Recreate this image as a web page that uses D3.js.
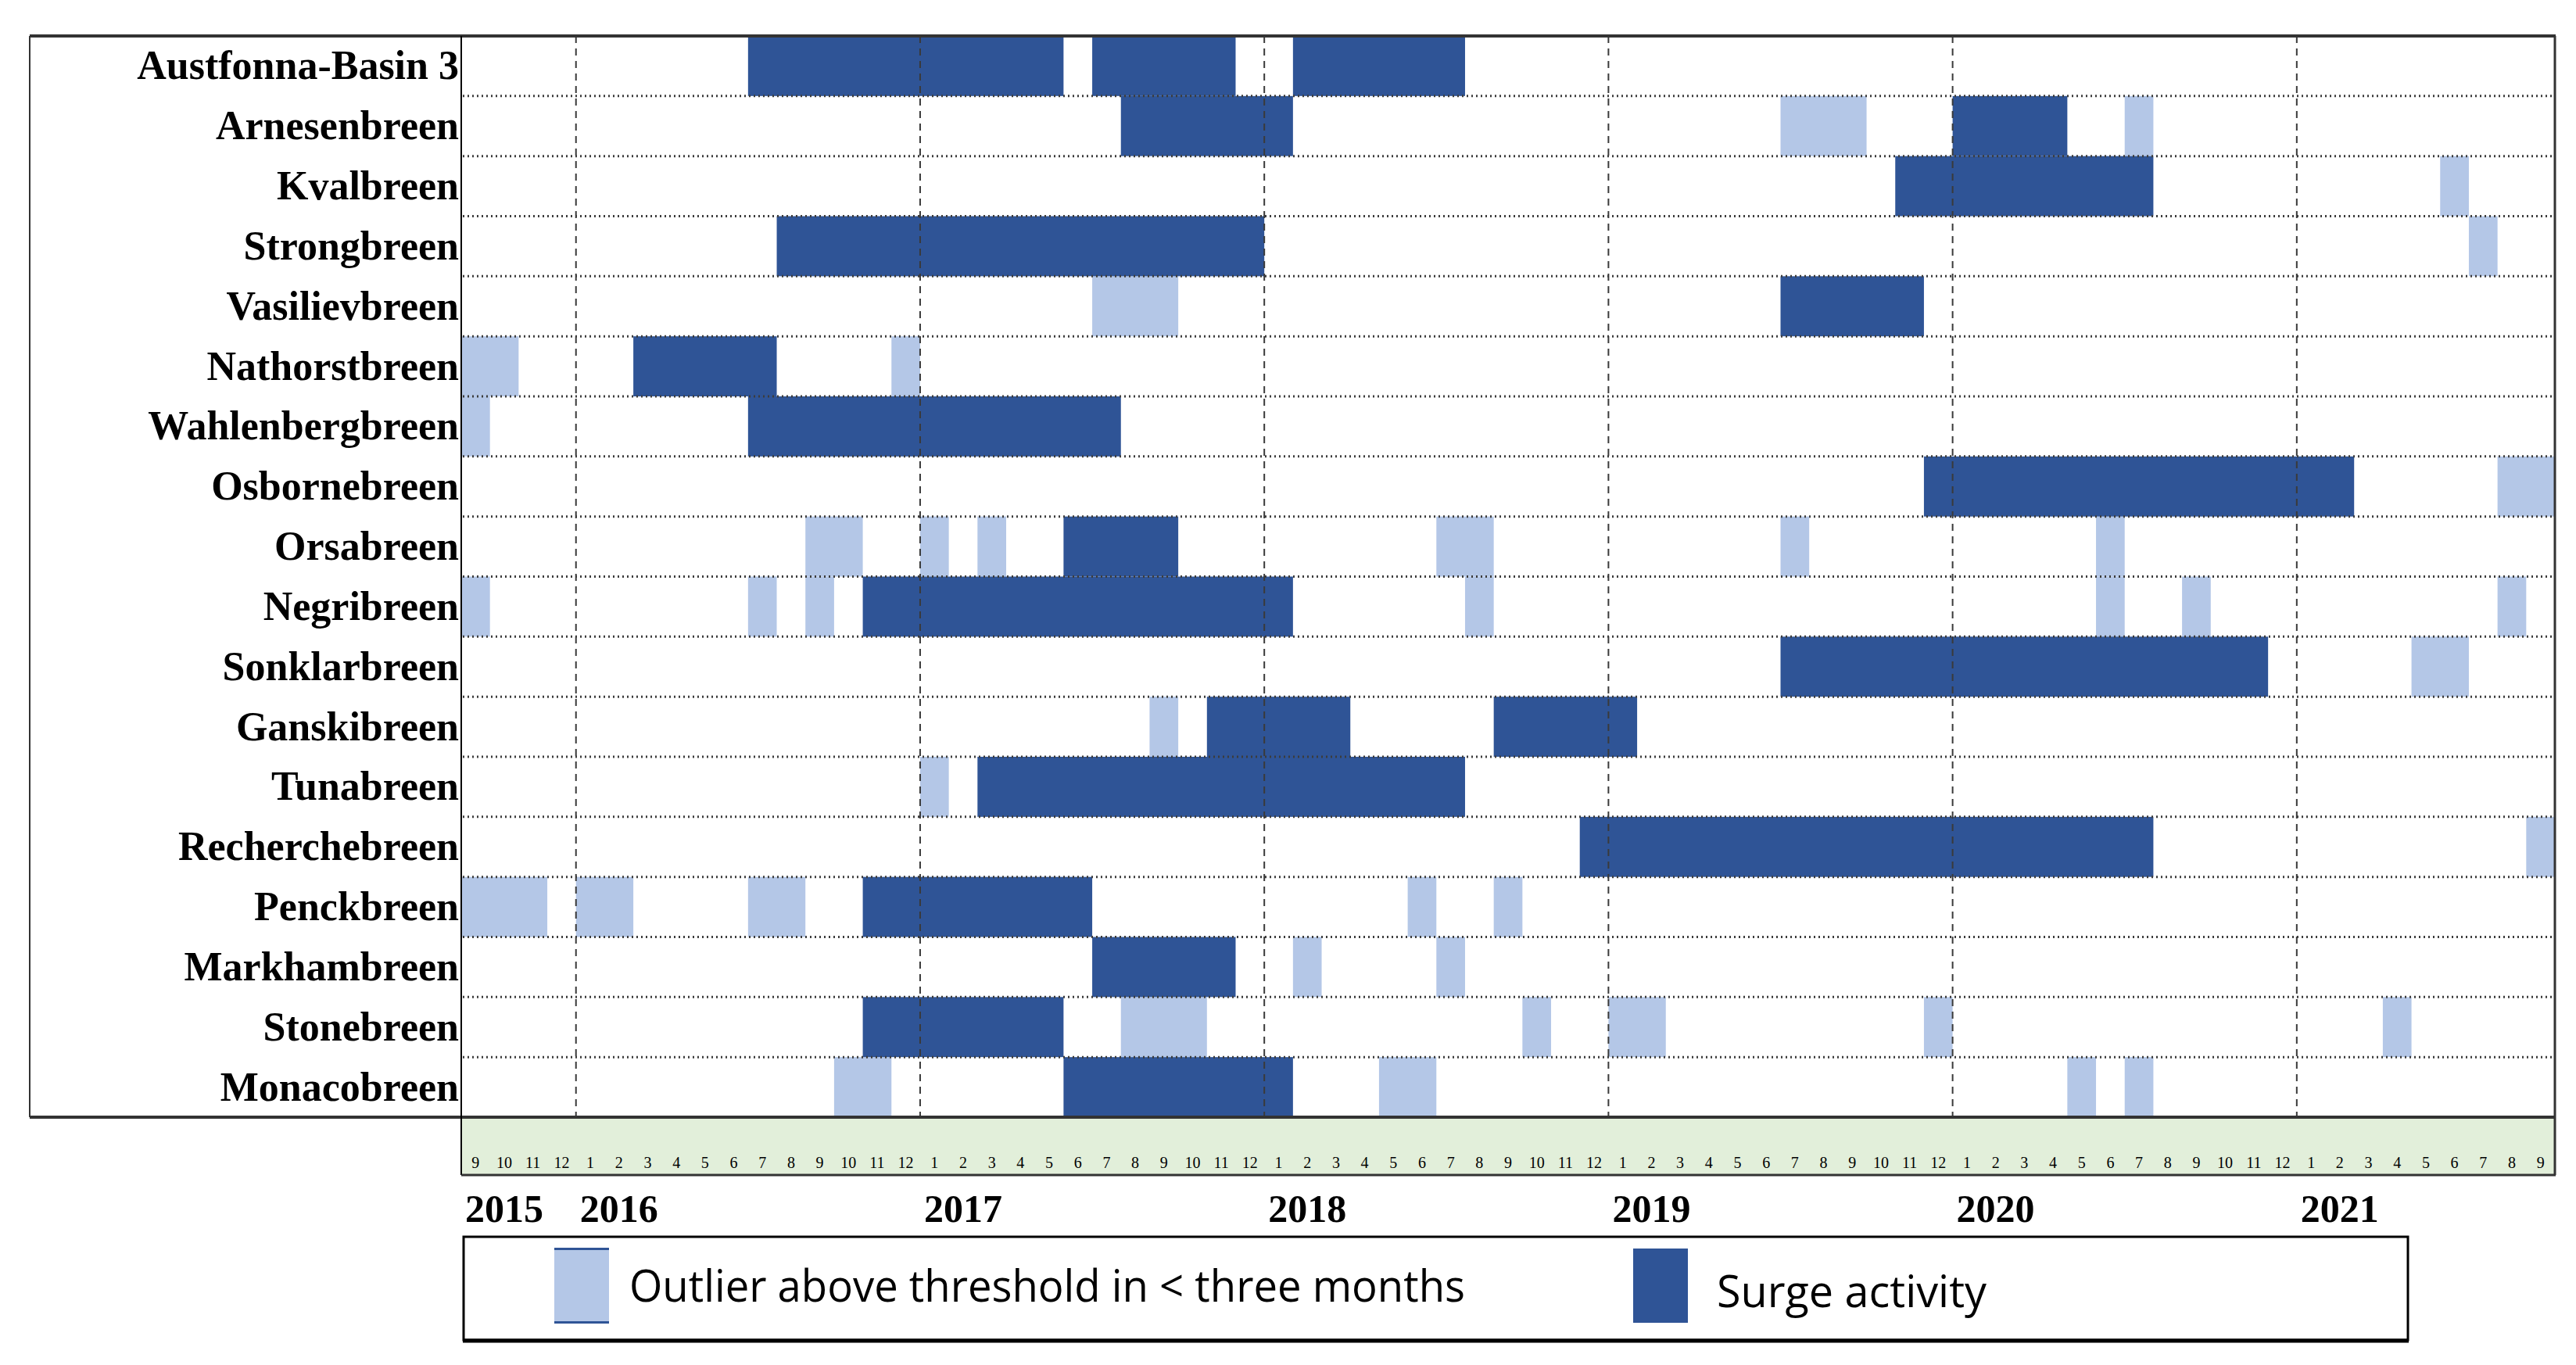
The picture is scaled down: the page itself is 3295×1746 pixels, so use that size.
<!DOCTYPE html>
<html>
<head>
<meta charset="utf-8">
<script src="https://cdn.jsdelivr.net/npm/d3@7"></script>
<style>
  html, body { margin: 0; padding: 0; background: #ffffff; }
  svg { display: block; }
</style>
</head>
<body>
<svg id="chart"></svg>
<script>
// ---------------- DATA ----------------
const glaciers = [
  "Austfonna-Basin 3", "Arnesenbreen", "Kvalbreen", "Strongbreen", "Vasilievbreen",
  "Nathorstbreen", "Wahlenbergbreen", "Osbornebreen", "Orsabreen", "Negribreen",
  "Sonklarbreen", "Ganskibreen", "Tunabreen", "Recherchebreen", "Penckbreen",
  "Markhambreen", "Stonebreen", "Monacobreen"
];

const firstMonth = "2015-09";
const lastMonth = "2021-09";

const yearLabels = ["2015", "2016", "2017", "2018", "2019", "2020", "2021"];

// [glacier, first month, last month (inclusive)]
const surgeActivity = [
  ["Austfonna-Basin 3", "2016-07", "2017-05"],
  ["Austfonna-Basin 3", "2017-07", "2017-11"],
  ["Austfonna-Basin 3", "2018-02", "2018-07"],
  ["Arnesenbreen", "2017-08", "2018-01"],
  ["Arnesenbreen", "2020-01", "2020-04"],
  ["Kvalbreen", "2019-11", "2020-07"],
  ["Strongbreen", "2016-08", "2017-12"],
  ["Vasilievbreen", "2019-07", "2019-11"],
  ["Nathorstbreen", "2016-03", "2016-07"],
  ["Wahlenbergbreen", "2016-07", "2017-07"],
  ["Osbornebreen", "2019-12", "2021-02"],
  ["Orsabreen", "2017-06", "2017-09"],
  ["Negribreen", "2016-11", "2018-01"],
  ["Sonklarbreen", "2019-07", "2020-11"],
  ["Ganskibreen", "2017-11", "2018-03"],
  ["Ganskibreen", "2018-09", "2019-01"],
  ["Tunabreen", "2017-03", "2018-07"],
  ["Recherchebreen", "2018-12", "2020-07"],
  ["Penckbreen", "2016-11", "2017-06"],
  ["Markhambreen", "2017-07", "2017-11"],
  ["Stonebreen", "2016-11", "2017-05"],
  ["Monacobreen", "2017-06", "2018-01"]
];

const outliers = [
  ["Arnesenbreen", "2019-07", "2019-09"],
  ["Arnesenbreen", "2020-07", "2020-07"],
  ["Kvalbreen", "2021-06", "2021-06"],
  ["Strongbreen", "2021-07", "2021-07"],
  ["Vasilievbreen", "2017-07", "2017-09"],
  ["Nathorstbreen", "2015-09", "2015-10"],
  ["Nathorstbreen", "2016-12", "2016-12"],
  ["Wahlenbergbreen", "2015-09", "2015-09"],
  ["Osbornebreen", "2021-08", "2021-09"],
  ["Orsabreen", "2016-09", "2016-10"],
  ["Orsabreen", "2017-01", "2017-01"],
  ["Orsabreen", "2017-03", "2017-03"],
  ["Orsabreen", "2018-07", "2018-08"],
  ["Orsabreen", "2019-07", "2019-07"],
  ["Orsabreen", "2020-06", "2020-06"],
  ["Negribreen", "2015-09", "2015-09"],
  ["Negribreen", "2016-07", "2016-07"],
  ["Negribreen", "2016-09", "2016-09"],
  ["Negribreen", "2018-08", "2018-08"],
  ["Negribreen", "2020-06", "2020-06"],
  ["Negribreen", "2020-09", "2020-09"],
  ["Negribreen", "2021-08", "2021-08"],
  ["Sonklarbreen", "2021-05", "2021-06"],
  ["Ganskibreen", "2017-09", "2017-09"],
  ["Tunabreen", "2017-01", "2017-01"],
  ["Recherchebreen", "2021-09", "2021-09"],
  ["Penckbreen", "2015-09", "2015-11"],
  ["Penckbreen", "2016-01", "2016-02"],
  ["Penckbreen", "2016-07", "2016-08"],
  ["Penckbreen", "2018-06", "2018-06"],
  ["Penckbreen", "2018-09", "2018-09"],
  ["Markhambreen", "2018-02", "2018-02"],
  ["Markhambreen", "2018-07", "2018-07"],
  ["Stonebreen", "2017-08", "2017-10"],
  ["Stonebreen", "2018-10", "2018-10"],
  ["Stonebreen", "2019-01", "2019-02"],
  ["Stonebreen", "2019-12", "2019-12"],
  ["Stonebreen", "2021-04", "2021-04"],
  ["Monacobreen", "2016-10", "2016-11"],
  ["Monacobreen", "2018-05", "2018-06"],
  ["Monacobreen", "2020-05", "2020-05"],
  ["Monacobreen", "2020-07", "2020-07"]
];

const legendItems = [
  { key: "outlier", label: "Outlier above threshold in < three months" },
  { key: "surge", label: "Surge activity" }
];

// ---------------- STYLE ----------------
const W = 3295, H = 1746;
const colors = { surge: "#2F5496", outlier: "#B4C7E7", band: "#E2EFDA" };
const plot = { left: 590, right: 3268, top: 46, bottom: 1429 };
const frameLeft = 38;
const bandBottom = 1503;

const svg = d3.select("#chart").attr("width", W).attr("height", H)
  .attr("viewBox", `0 0 ${W} ${H}`);

const fmt = d3.timeFormat("%Y-%m");
const parse = d3.timeParse("%Y-%m");
const monthKeys = d3.timeMonth.range(parse(firstMonth), d3.timeMonth.offset(parse(lastMonth), 1)).map(fmt);

const x = d3.scaleBand().domain(monthKeys).range([plot.left, plot.right]).padding(0);
const y = d3.scaleBand().domain(glaciers).range([plot.top, plot.bottom]).padding(0);

// green month band
svg.append("rect")
  .attr("x", plot.left).attr("y", plot.bottom)
  .attr("width", plot.right - plot.left).attr("height", bandBottom - plot.bottom)
  .attr("fill", colors.band);

// bars
function drawBars(data, color, cls) {
  svg.append("g").attr("class", cls)
    .selectAll("rect").data(data).join("rect")
    .attr("x", d => x(d[1]))
    .attr("width", d => x(d[2]) + x.bandwidth() - x(d[1]))
    .attr("y", d => y(d[0]))
    .attr("height", y.bandwidth())
    .attr("fill", color);
}
drawBars(outliers, colors.outlier, "outliers");
drawBars(surgeActivity, colors.surge, "surges");

// horizontal dotted row separators
svg.append("g").selectAll("line").data(glaciers.slice(1)).join("line")
  .attr("x1", plot.left + 2).attr("x2", plot.right - 2)
  .attr("y1", d => y(d)).attr("y2", d => y(d))
  .attr("stroke", "#3c3c3c").attr("stroke-width", 3)
  .attr("stroke-dasharray", "2,4");

// vertical dashed year lines
const yearStarts = yearLabels.slice(1).map(yr => yr + "-01");
svg.append("g").selectAll("line").data(yearStarts).join("line")
  .attr("x1", d => x(d)).attr("x2", d => x(d))
  .attr("y1", plot.top).attr("y2", plot.bottom)
  .attr("stroke", "#3a3a3a").attr("stroke-width", 2)
  .attr("stroke-dasharray", "9,7");

// frame
const frame = svg.append("g").attr("fill", "none");
frame.append("line").attr("x1", frameLeft).attr("x2", plot.right + 1)
  .attr("y1", plot.top).attr("y2", plot.top).attr("stroke", "#333").attr("stroke-width", 4);
frame.append("line").attr("x1", frameLeft).attr("x2", plot.right + 1)
  .attr("y1", plot.bottom).attr("y2", plot.bottom).attr("stroke", "#333").attr("stroke-width", 4);
frame.append("line").attr("x1", frameLeft).attr("x2", frameLeft)
  .attr("y1", plot.top).attr("y2", plot.bottom).attr("stroke", "#333").attr("stroke-width", 2);
frame.append("line").attr("x1", plot.left).attr("x2", plot.left)
  .attr("y1", plot.top).attr("y2", bandBottom).attr("stroke", "#000").attr("stroke-width", 2);
frame.append("line").attr("x1", plot.right).attr("x2", plot.right)
  .attr("y1", plot.top).attr("y2", bandBottom).attr("stroke", "#333").attr("stroke-width", 3);
frame.append("line").attr("x1", plot.left).attr("x2", plot.right + 1)
  .attr("y1", bandBottom).attr("y2", bandBottom).attr("stroke", "#333").attr("stroke-width", 3);

// glacier labels
svg.append("g").selectAll("text").data(glaciers).join("text")
  .attr("x", plot.left - 3)
  .attr("y", d => y(d) + y.bandwidth() / 2 + 17)
  .attr("text-anchor", "end")
  .attr("font-family", "'Liberation Serif', 'Times New Roman', serif")
  .attr("font-weight", "bold")
  .attr("font-size", 52)
  .attr("fill", "#000")
  .text(d => d);

// month axis
const monthAxis = d3.axisBottom(x).tickSize(0).tickPadding(0)
  .tickFormat(d => String(+d.slice(5)));
const gm = svg.append("g").attr("transform", `translate(0,${1480})`).call(monthAxis);
gm.select(".domain").remove();
gm.selectAll("text")
  .attr("font-family", "'Liberation Serif', 'Times New Roman', serif")
  .attr("font-size", 20)
  .attr("fill", "#000");

// year labels
svg.append("g").selectAll("text").data(yearLabels).join("text")
  .attr("x", d => x(d === yearLabels[0] ? firstMonth : d + "-01") + 5)
  .attr("y", 1563)
  .attr("font-family", "'Liberation Serif', 'Times New Roman', serif")
  .attr("font-weight", "bold")
  .attr("font-size", 50)
  .attr("fill", "#000")
  .text(d => d);

// legend
const lg = svg.append("g");
lg.append("rect").attr("x", 593).attr("y", 1582).attr("width", 2487).attr("height", 132)
  .attr("fill", "#fff").attr("stroke", "#000").attr("stroke-width", 3);
lg.append("line").attr("x1", 592).attr("x2", 3081).attr("y1", 1715).attr("y2", 1715)
  .attr("stroke", "#000").attr("stroke-width", 5);

const legendPos = {
  outlier: { sx: 709, tx: 805, ty: 1665, tl: 1069 },
  surge: { sx: 2089, tx: 2196, ty: 1672, tl: 345 }
};
legendItems.forEach(it => {
  const p = legendPos[it.key];
  lg.append("rect").attr("x", p.sx).attr("y", 1597).attr("width", 70).attr("height", 95)
    .attr("fill", colors[it.key]);
  if (it.key === "outlier") {
    lg.append("rect").attr("x", p.sx).attr("y", 1596).attr("width", 70).attr("height", 3).attr("fill", colors.surge);
    lg.append("rect").attr("x", p.sx).attr("y", 1690).attr("width", 70).attr("height", 3).attr("fill", colors.surge);
  }
  lg.append("text").attr("x", p.tx).attr("y", p.ty)
    .attr("font-family", "'Liberation Sans Narrow', 'Open Sans', 'Liberation Sans', sans-serif")
    .attr("font-size", 56)
    .attr("textLength", p.tl)
    .attr("lengthAdjust", "spacingAndGlyphs")
    .attr("fill", "#000")
    .text(it.label);
});
</script>
</body>
</html>
